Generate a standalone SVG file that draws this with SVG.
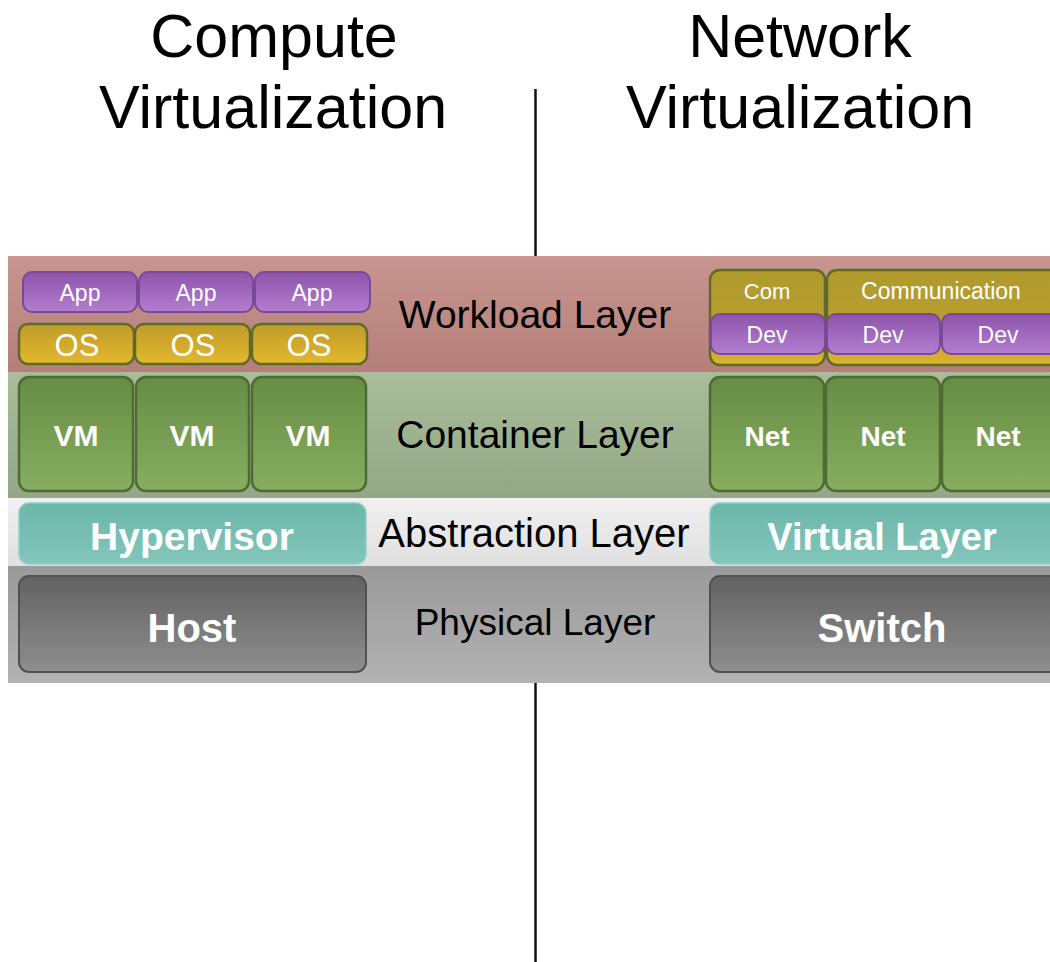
<svg xmlns="http://www.w3.org/2000/svg" width="1050" height="962" viewBox="0 0 1050 962">
<defs>
<linearGradient id="gWork" x1="0" y1="0" x2="0" y2="1"><stop offset="0" stop-color="#c99590"/><stop offset="1" stop-color="#b37f78"/></linearGradient>
<linearGradient id="gCont" x1="0" y1="0" x2="0" y2="1"><stop offset="0" stop-color="#a9bd9b"/><stop offset="1" stop-color="#93a786"/></linearGradient>
<linearGradient id="gAbs" x1="0" y1="0" x2="0" y2="1"><stop offset="0" stop-color="#f0f0f0"/><stop offset="1" stop-color="#e0e0e0"/></linearGradient>
<linearGradient id="gPhys" x1="0" y1="0" x2="0" y2="1"><stop offset="0" stop-color="#9a9a9a"/><stop offset="1" stop-color="#b2b2b2"/></linearGradient>
<linearGradient id="gApp" x1="0" y1="0" x2="0" y2="1"><stop offset="0" stop-color="#8c54ab"/><stop offset="1" stop-color="#b47ecf"/></linearGradient>
<linearGradient id="gOS" x1="0" y1="0" x2="0" y2="1"><stop offset="0" stop-color="#c09c2a"/><stop offset="1" stop-color="#e2b82c"/></linearGradient>
<linearGradient id="gCom" x1="0" y1="0" x2="0" y2="1"><stop offset="0" stop-color="#b09a2c"/><stop offset="0.6" stop-color="#b8a030"/><stop offset="1" stop-color="#dcb42c"/></linearGradient>
<linearGradient id="gVM" x1="0" y1="0" x2="0" y2="1"><stop offset="0" stop-color="#678c45"/><stop offset="1" stop-color="#87ae60"/></linearGradient>
<linearGradient id="gHyp" x1="0" y1="0" x2="0" y2="1"><stop offset="0" stop-color="#6bb6aa"/><stop offset="1" stop-color="#84c6bb"/></linearGradient>
<linearGradient id="gHost" x1="0" y1="0" x2="0" y2="1"><stop offset="0" stop-color="#626262"/><stop offset="1" stop-color="#8e8e8e"/></linearGradient>
</defs>
<style>
.title{font-family:"Liberation Sans",Arial,sans-serif;font-size:61px;fill:#000;text-anchor:middle}
.layer{font-family:"Liberation Sans",Arial,sans-serif;fill:#000;text-anchor:middle}
.w{font-family:"Liberation Sans",Arial,sans-serif;fill:#fff;text-anchor:middle}
.b{font-weight:bold}
.app{fill:url(#gApp);stroke:#7a4896;stroke-width:2}
.os{fill:url(#gOS);stroke:#5f6a2a;stroke-width:2.5}
.com{fill:url(#gCom);stroke:#5f6a2a;stroke-width:2.5}
.vm{fill:url(#gVM);stroke:#4d6c33;stroke-width:2.5}
.hyp{fill:url(#gHyp);stroke:#8fcfc4;stroke-width:1.5}
.host{fill:url(#gHost);stroke:#505050;stroke-width:2}
.div{stroke:#111;stroke-width:2.5;fill:none}
</style>
<rect width="1050" height="962" fill="#fff"/>
<g id="bands">
<rect x="8" y="256" width="1042" height="116" fill="url(#gWork)"/>
<rect x="8" y="372" width="1042" height="126" fill="url(#gCont)"/>
<rect x="8" y="498" width="1042" height="68" fill="url(#gAbs)"/>
<rect x="8" y="566" width="1042" height="117" fill="url(#gPhys)"/>
</g>
<g id="titles">
<text class="title" x="274" y="57">Compute</text>
<text class="title" x="273" y="128">Virtualization</text>
<text class="title" x="800" y="57">Network</text>
<text class="title" x="800" y="128">Virtualization</text>
</g>
<g id="connectors">
<line class="div" x1="535.5" y1="89" x2="535.5" y2="256"/>
<line class="div" x1="535.5" y1="683" x2="535.5" y2="962"/>
</g>
<g id="layer-labels">
<text class="layer" x="535" y="328" font-size="39">Workload Layer</text>
<text class="layer" x="535" y="448" font-size="39">Container Layer</text>
<text class="layer" x="534" y="547" font-size="40">Abstraction Layer</text>
<text class="layer" x="535" y="635" font-size="37">Physical Layer</text>
</g>
<g id="app1"><rect class="app" x="23" y="272" width="114" height="40" rx="9"/><text class="w" x="80" y="301" font-size="23">App</text></g>
<g id="app2"><rect class="app" x="139" y="272" width="114" height="40" rx="9"/><text class="w" x="196" y="301" font-size="23">App</text></g>
<g id="app3"><rect class="app" x="255" y="272" width="115" height="40" rx="9"/><text class="w" x="312" y="301" font-size="23">App</text></g>
<g id="os1"><rect class="os" x="19" y="324" width="115" height="40" rx="9"/><text class="w" x="77" y="356" font-size="31">OS</text></g>
<g id="os2"><rect class="os" x="135" y="324" width="115" height="40" rx="9"/><text class="w" x="193" y="356" font-size="31">OS</text></g>
<g id="os3"><rect class="os" x="252" y="324" width="115" height="40" rx="9"/><text class="w" x="309" y="356" font-size="31">OS</text></g>
<g id="com1"><rect class="com" x="710" y="270" width="115" height="95" rx="10"/><text class="w" x="767" y="299" font-size="22">Com</text></g>
<g id="communication"><rect class="com" x="827" y="270" width="240" height="95" rx="10"/><text class="w" x="941" y="299" font-size="23">Communication</text></g>
<g id="dev1"><rect class="app" x="711" y="314" width="114" height="40" rx="9"/><text class="w" x="767" y="343" font-size="23">Dev</text></g>
<g id="dev2"><rect class="app" x="827" y="314" width="113" height="40" rx="9"/><text class="w" x="883" y="343" font-size="23">Dev</text></g>
<g id="dev3"><rect class="app" x="942" y="314" width="120" height="40" rx="9"/><text class="w" x="998" y="343" font-size="23">Dev</text></g>
<g id="vm1"><rect class="vm" x="19" y="377" width="114" height="114" rx="10"/><text class="w b" x="76" y="446" font-size="30">VM</text></g>
<g id="vm2"><rect class="vm" x="136" y="377" width="113" height="114" rx="10"/><text class="w b" x="192" y="446" font-size="30">VM</text></g>
<g id="vm3"><rect class="vm" x="252" y="377" width="114" height="114" rx="10"/><text class="w b" x="308" y="446" font-size="30">VM</text></g>
<g id="net1"><rect class="vm" x="710" y="377" width="114" height="114" rx="10"/><text class="w b" x="767" y="446" font-size="28">Net</text></g>
<g id="net2"><rect class="vm" x="826" y="377" width="114" height="114" rx="10"/><text class="w b" x="883" y="446" font-size="28">Net</text></g>
<g id="net3"><rect class="vm" x="942" y="377" width="120" height="114" rx="10"/><text class="w b" x="998" y="446" font-size="28">Net</text></g>
<g id="hypervisor"><rect class="hyp" x="19" y="503" width="347" height="61" rx="10"/><text class="w b" x="192" y="550" font-size="39">Hypervisor</text></g>
<g id="virtual-layer"><rect class="hyp" x="710" y="503" width="360" height="61" rx="10"/><text class="w b" x="882" y="550" font-size="38">Virtual Layer</text></g>
<g id="host"><rect class="host" x="19" y="576" width="347" height="96" rx="10"/><text class="w b" x="192" y="642" font-size="40">Host</text></g>
<g id="switch"><rect class="host" x="710" y="576" width="360" height="96" rx="10"/><text class="w b" x="882" y="642" font-size="40">Switch</text></g>
</svg>
